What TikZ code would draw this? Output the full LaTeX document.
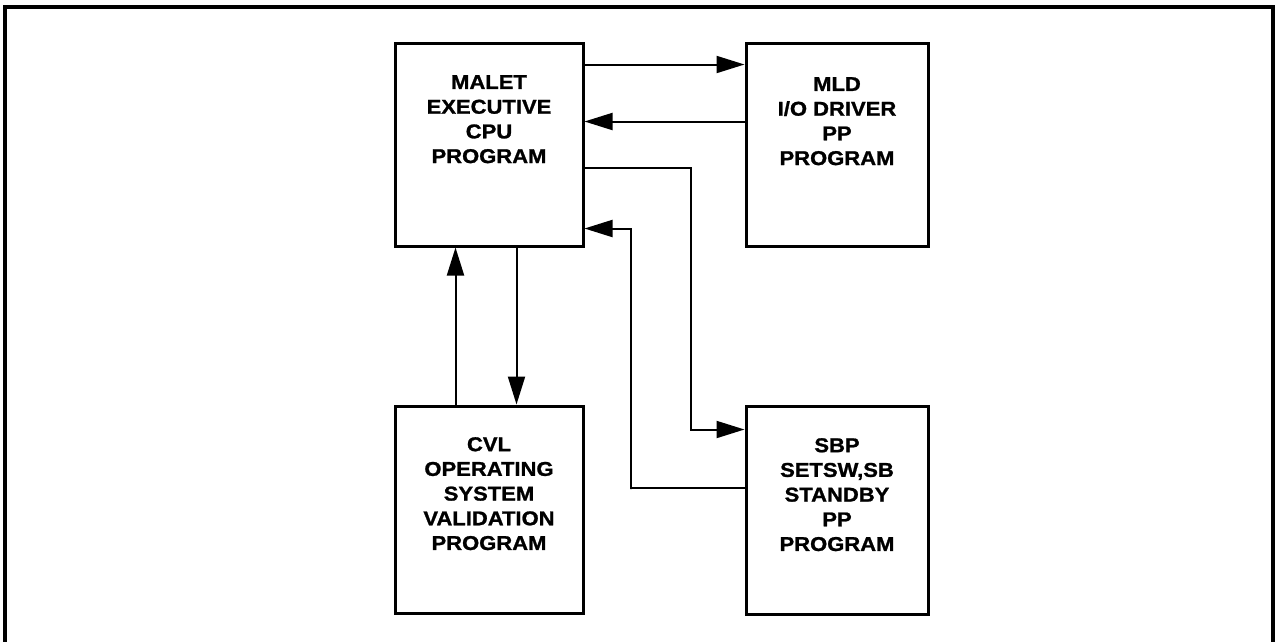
\documentclass[tikz,border=0pt]{standalone}
\usepackage{fontspec}
\newfontfamily\lblfont{Liberation Sans}[FakeStretch=1.1, FakeBold=1.2]
\usetikzlibrary{arrows.meta}
\tikzset{
  box/.style={draw, line width=3pt, rectangle, inner sep=0pt},
  lbl/.style={font=\lblfont\bfseries\fontsize{20}{24.7}\selectfont, align=center, inner sep=0pt, anchor=north},
  conn/.style={line width=2pt},
  arr/.style={conn, -{Triangle[length=28pt, width=17pt]}},
  frame/.style={line width=3.5pt}
}
\begin{document}
\begin{tikzpicture}[x=1pt, y=-1pt]
\useasboundingbox (0,0) rectangle (1278,641);
\draw[frame] (5,645) -- (5,7) -- (1273,7) -- (1273,645);
\node[box, minimum width=188pt, minimum height=203pt] (malet) at (489,144.5) {};
\node[box, minimum width=182pt, minimum height=203pt] (mld) at (837,144.5) {};
\node[box, minimum width=188pt, minimum height=207pt] (cvl) at (489,509.5) {};
\node[box, minimum width=182pt, minimum height=208pt] (sbp) at (837,510) {};
\node[lbl] (maletT) at (489,75) {MALET\\EXECUTIVE\\CPU\\PROGRAM};
\node[lbl] (mldT) at (837,77) {MLD\\I/O DRIVER\\PP\\PROGRAM};
\node[lbl] (cvlT) at (489,437) {CVL\\OPERATING\\SYSTEM\\VALIDATION\\PROGRAM};
\node[lbl] (sbpT) at (837,438) {SBP\\SETSW,SB\\STANDBY\\PP\\PROGRAM};
\coordinate (c3) at (691,169);
\coordinate (c4) at (631,489);
\draw[arr] ([yshift=-23pt]malet.north east) -- ([yshift=-23pt]mld.north west);
\draw[arr] ([yshift=-80pt]mld.north west) -- ([yshift=-80pt]malet.north east);
\draw[arr] ([yshift=-126pt]malet.north east) -| (c3) |- ([yshift=-25pt]sbp.north west);
\draw[arr] ([yshift=-83pt]sbp.north west) -| (c4) |- ([yshift=19pt]malet.south east);
\draw[arr] ([xshift=62pt]cvl.north west) -- ([xshift=62pt]malet.south west);
\draw[arr] ([xshift=123pt]malet.south west) -- ([xshift=123pt]cvl.north west);
\end{tikzpicture}
\end{document}
